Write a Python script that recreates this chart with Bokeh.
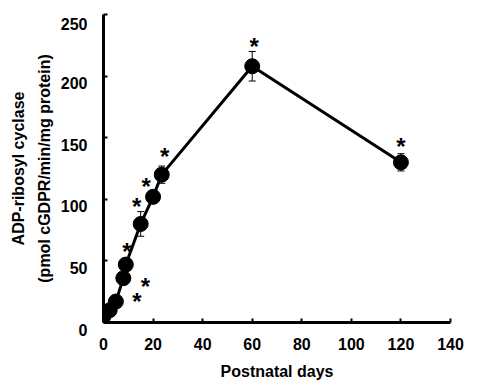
from bokeh.plotting import figure
from bokeh.models import ColumnDataSource, Range1d, LinearAxis, FixedTicker, Whisker, TeeHead
from bokeh.core.properties import value
from bokeh.embed import file_html
from bokeh.resources import INLINE

# ---- data ----
days = [0, 2.5, 5, 8, 9, 15, 20, 23.5, 60, 120]
activity = [5, 10, 17, 36, 47, 80, 102, 120, 208, 130]
sem = [1, 1, 2, 2, 3, 10, 4, 7, 12, 7]
x_ticks = [0, 20, 40, 60, 80, 100, 120, 140]
y_ticks = [0, 50, 100, 150, 200, 250]
# points flagged as significant (*)
star_index = [2, 3, 4, 5, 6, 7, 8, 9]

# ---- annotation placement (pixels, relative to each flagged point) ----
star_dx = [21, 22, 1, -4, -7, 3, 2, 0]
star_dy = [-4, 4, -17, -21, -14, -22, -24, -20]

FONT = "Liberation Sans"
STAR_SIZE = 24

p = figure(width=470, height=386, output_backend="svg", toolbar_location=None,
           x_range=Range1d(0, 140), y_range=Range1d(0, 250),
           min_border_left=103, min_border_right=20, min_border_top=14, min_border_bottom=64)
p.outline_line_color = None
p.grid.visible = False
p.background_fill_color = "white"
p.border_fill_color = "white"

src = ColumnDataSource(dict(x=days, y=activity,
                            lo=[a - e for a, e in zip(activity, sem)],
                            hi=[a + e for a, e in zip(activity, sem)]))

p.add_layout(Whisker(source=src, base="x", upper="hi", lower="lo",
                     line_color="black", line_width=1,
                     upper_head=TeeHead(size=7, line_width=1, line_color="black"),
                     lower_head=TeeHead(size=7, line_width=1, line_color="black")))
p.line("x", "y", source=src, line_color="black", line_width=3)
p.scatter("x", "y", source=src, size=15, fill_color="black", line_color="black")

# asterisks
sx = [days[i] for i in star_index]
sy = [activity[i] for i in star_index]
ssrc = ColumnDataSource(dict(x=sx, y=sy, dx=star_dx,
                             dy=[d + 4 for d in star_dy],
                             t=["*"] * len(sx)))
p.text("x", "y", text="t", source=ssrc, x_offset="dx", y_offset="dy",
       text_font=value(FONT), text_font_style="bold", text_font_size=f"{STAR_SIZE}px",
       text_align="center", text_baseline="alphabetic", text_color="black")

for ax in (p.xaxis[0], p.yaxis[0]):
    ax.axis_line_width = 3
    ax.axis_line_color = "black"
    ax.major_tick_in = 4
    ax.major_tick_out = 0
    ax.major_tick_line_width = 2
    ax.minor_tick_line_color = None
    ax.major_label_text_font = FONT
    ax.major_label_text_font_style = "bold"
    ax.major_label_text_font_size = "16px"
    ax.major_label_text_color = "black"
    ax.axis_label_text_font = FONT
    ax.axis_label_text_font_style = "bold"
    ax.axis_label_text_font_size = "16px"
    ax.axis_label_text_color = "black"

p.xaxis.ticker = FixedTicker(ticks=x_ticks)
p.yaxis.ticker = FixedTicker(ticks=y_ticks)
p.xaxis.axis_label = "Postnatal days"
p.xaxis.major_label_standoff = 15
p.xaxis.axis_label_standoff = 10
p.yaxis.axis_label = "(pmol cGDPR/min/mg protein)"
p.yaxis.major_label_standoff = 16
p.yaxis.axis_label_standoff = 5
# in the reference the y tick labels sit slightly below their ticks
p.yaxis.major_label_overrides = {v: "\n" + str(v) for v in y_ticks}
p.yaxis.major_label_text_line_height = 0.9

extra = LinearAxis(axis_label="ADP-ribosyl cyclase", ticker=FixedTicker(ticks=[]),
                   axis_line_color=None, major_tick_line_color=None,
                   minor_tick_line_color=None, axis_label_standoff=6,
                   axis_label_text_font=FONT, axis_label_text_font_style="bold",
                   axis_label_text_font_size="16px", axis_label_text_color="black")
p.add_layout(extra, "left")

open("out.html", "w").write(file_html(p, INLINE))
